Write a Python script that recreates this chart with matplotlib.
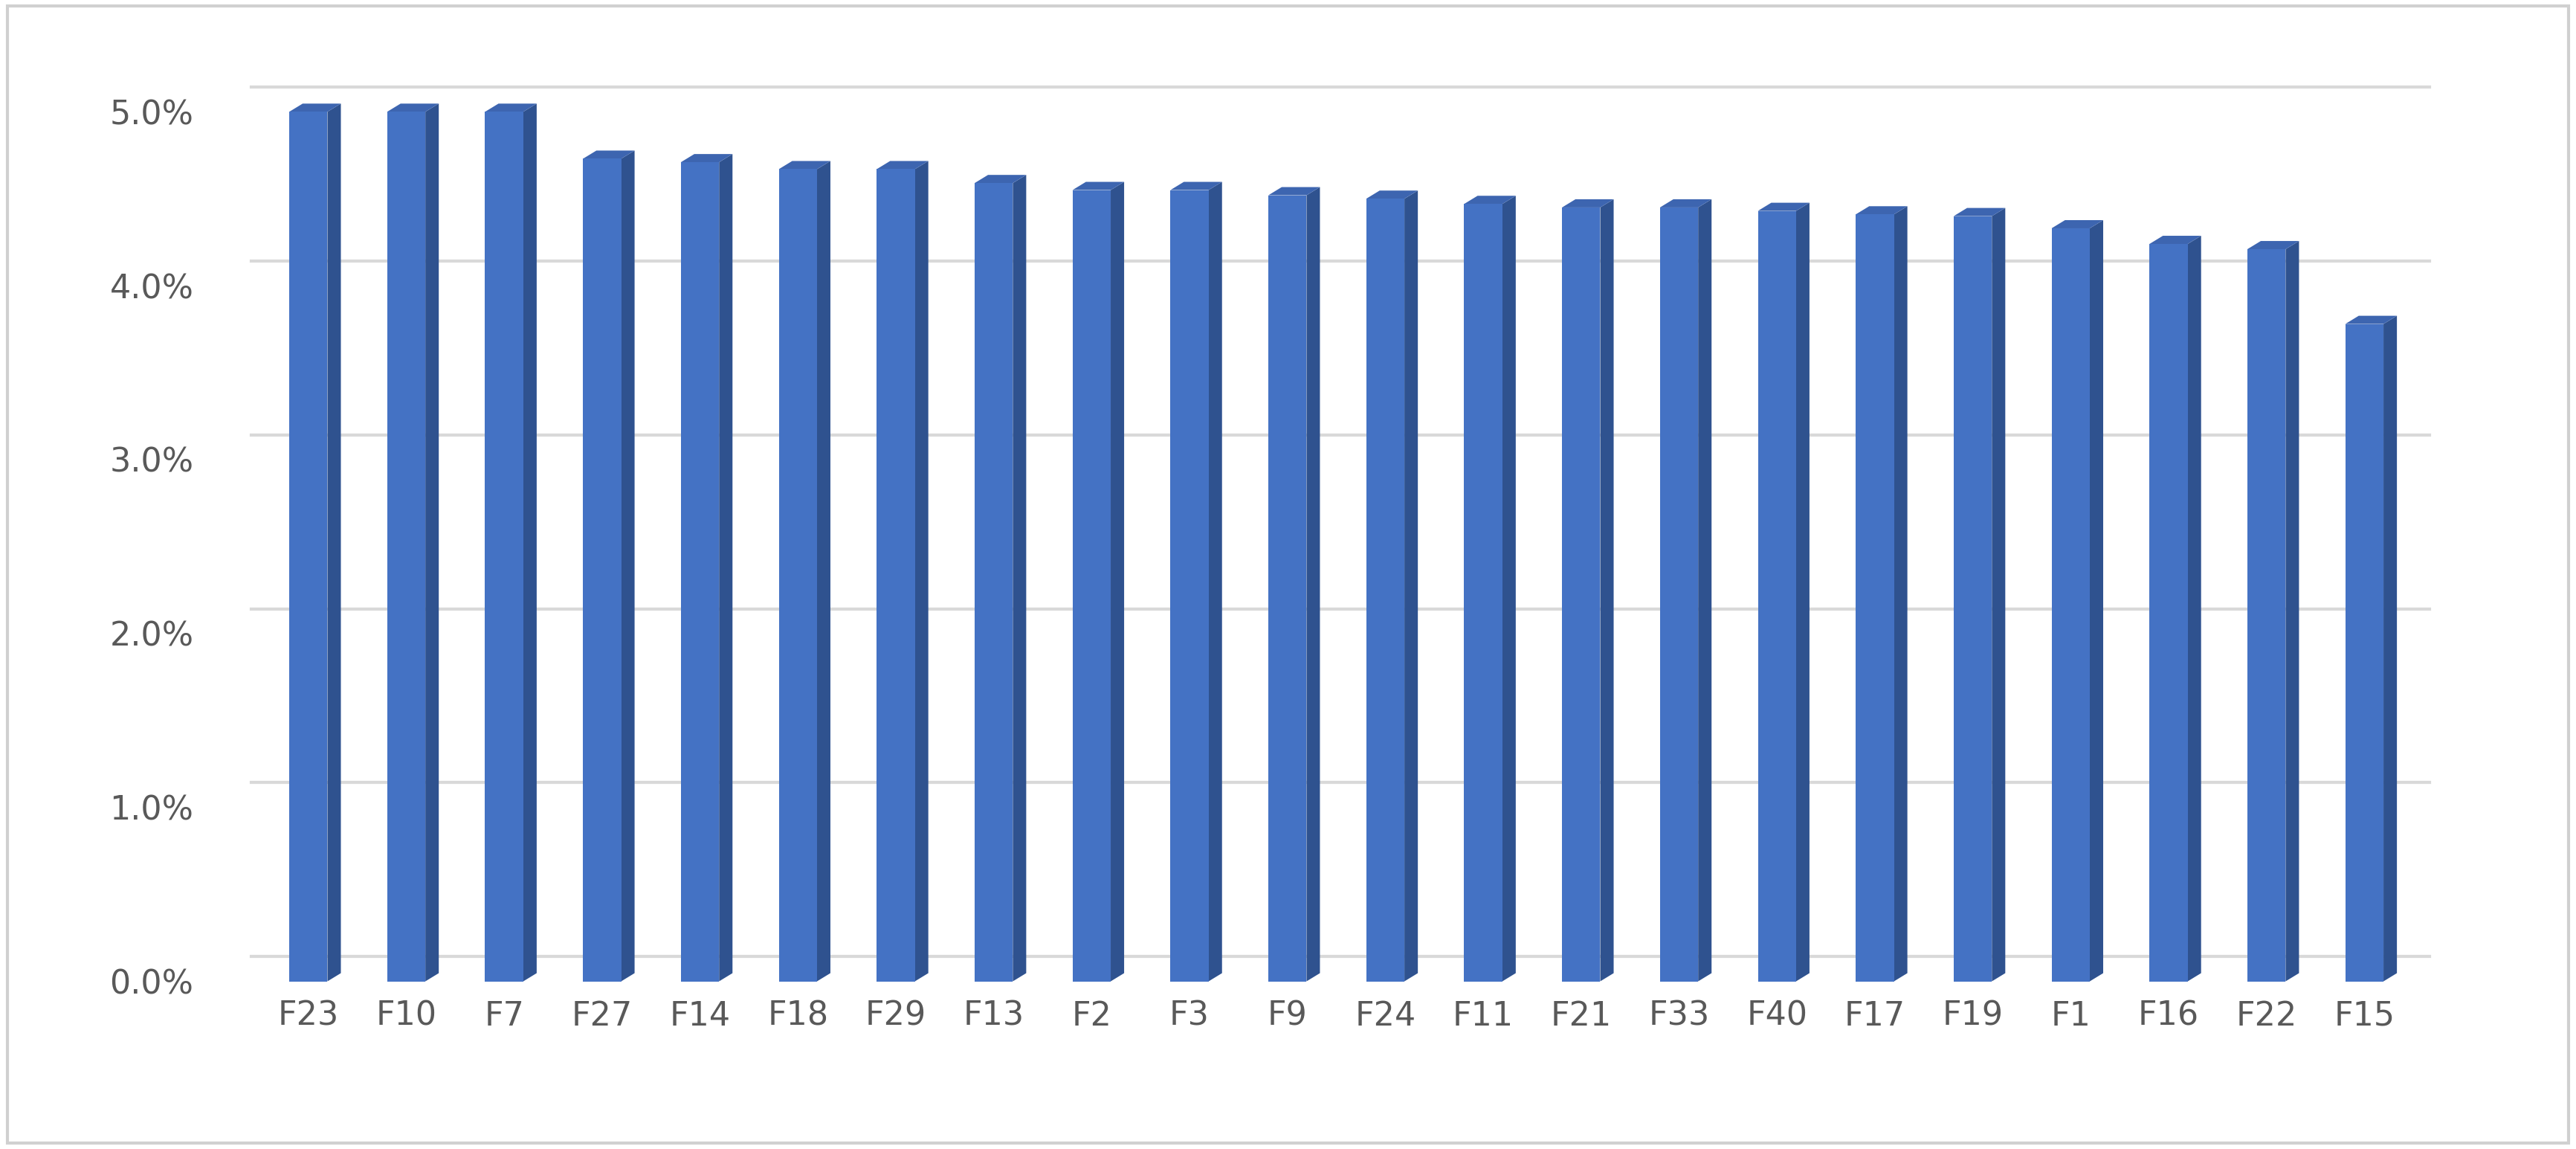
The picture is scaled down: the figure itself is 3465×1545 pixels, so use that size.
import matplotlib
matplotlib.use("Agg")
import matplotlib.pyplot as plt
from matplotlib.patches import Polygon, Rectangle
import matplotlib.transforms as mtransforms

categories = ["F23","F10","F7","F27","F14","F18","F29","F13","F2","F3","F9","F24","F11","F21","F33","F40","F17","F19","F1","F16","F22","F15"]
values = [5.00,5.00,5.00,4.73,4.71,4.67,4.67,4.59,4.55,4.55,4.52,4.50,4.47,4.45,4.45,4.43,4.41,4.40,4.33,4.24,4.21,3.78]
yticks = [0,1,2,3,4,5]

fig = plt.figure(figsize=(34.65,15.45), dpi=100)
fig.patches.append(Rectangle((0.003,0.005),0.994,0.99,transform=fig.transFigure,fill=False,edgecolor="#d0d0d0",linewidth=3))
ax = fig.add_axes([143/1568, 1-597/699, (1469-143)/1568, (597-68)/699])
ax.set_xlim(-0.75, 21.5)
ax.set_ylim(0, 5)
for s in ax.spines.values():
    s.set_visible(False)

off = mtransforms.ScaledTranslation(16/72, 24/72, fig.dpi_scale_trans)
for t in yticks:
    ax.plot([-0.75, 21.5], [t, t], color="#d9d9d9", lw=3, transform=ax.transData+off, clip_on=False, zorder=0)

w = 0.39
ddx, ddy = 0.137, 0.047
for i, v in enumerate(values):
    x0, x1 = i - w/2, i + w/2
    ax.add_patch(Polygon([(x1,0),(x1+ddx,ddy),(x1+ddx,v+ddy),(x1,v)], closed=True, facecolor="#2F528F", edgecolor="none", zorder=2, clip_on=False))
    ax.add_patch(Polygon([(x0,v),(x1,v),(x1+ddx,v+ddy),(x0+ddx,v+ddy)], closed=True, facecolor="#3d65b0", edgecolor="none", zorder=2, clip_on=False))
ax.bar(range(len(values)), values, width=w, color="#4472C4", zorder=3)

ax.set_yticks(yticks)
ax.set_yticklabels([f"{t:.1f}%" for t in yticks])
ax.set_xticks(range(len(categories)))
ax.set_xticklabels(categories)
ax.tick_params(length=0, labelsize=32, colors="#595959", pad=18)
ax.tick_params(axis="y", pad=40)
fig.savefig("out.png", dpi=100)
